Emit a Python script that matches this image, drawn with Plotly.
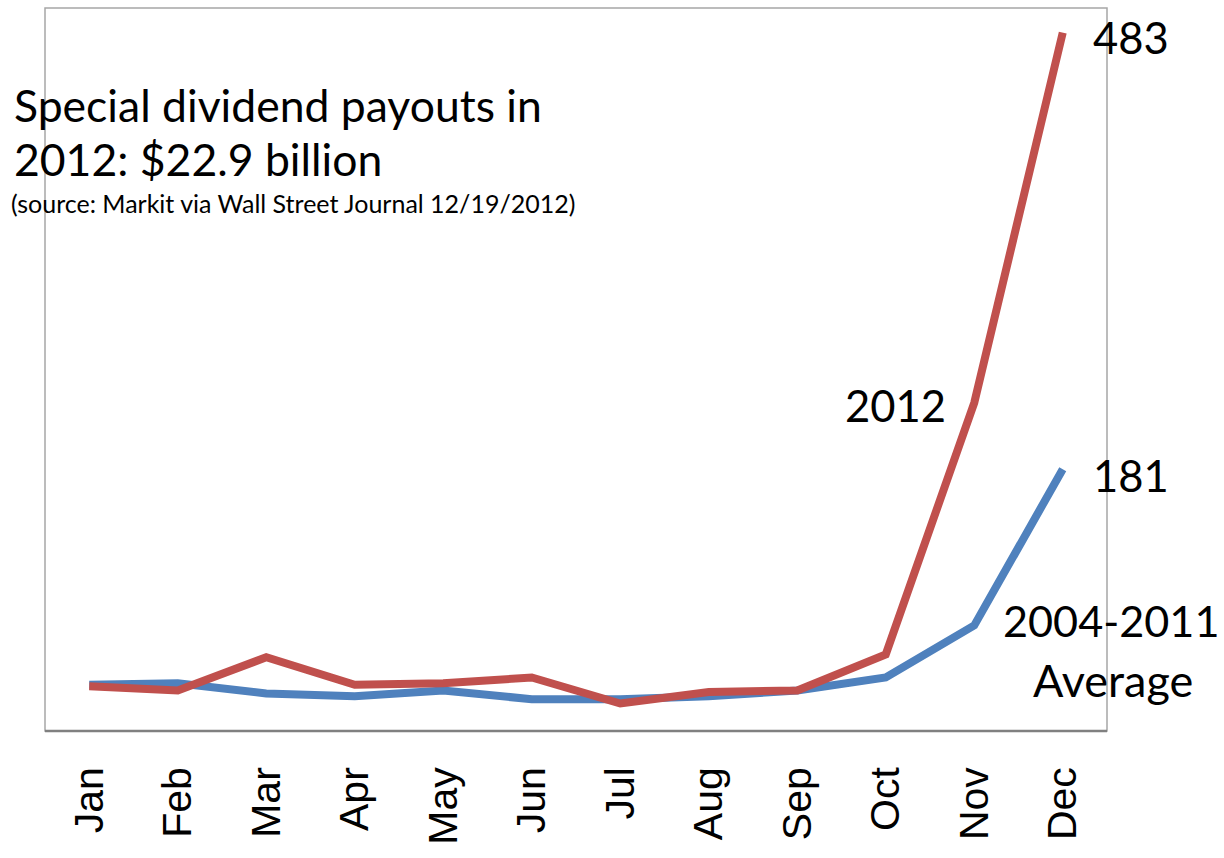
import plotly.graph_objects as go

months = ["Jan", "Feb", "Mar", "Apr", "May", "Jun", "Jul", "Aug", "Sep", "Oct", "Nov", "Dec"]
avg_2004_2011 = [32, 33, 26, 24, 28, 22, 22, 24, 28, 37, 73, 181]
payouts_2012 = [31, 28, 51, 32, 33, 37, 19, 27, 28, 53, 227, 483]

RED = "#C0504D"
BLUE = "#4F81BD"
FONT = "Lato, 'Open Sans', sans-serif"

fig = go.Figure()
fig.add_trace(go.Scatter(x=months, y=avg_2004_2011, mode="lines",
                         line=dict(color=BLUE, width=8), name="2004-2011 Average"))
fig.add_trace(go.Scatter(x=months, y=payouts_2012, mode="lines",
                         line=dict(color=RED, width=8), name="2012"))

fig.update_layout(
    width=1224, height=858,
    margin=dict(l=45, r=117, t=8, b=127),
    paper_bgcolor="white", plot_bgcolor="white",
    showlegend=False,
    xaxis=dict(type="category", range=[-0.5, 11.5], showgrid=False, zeroline=False,
               showline=False, ticks="", tickangle=-90, ticklabelstandoff=27,
               tickfont=dict(family="'Liberation Sans', Arial, sans-serif", size=41, color="black")),
    yaxis=dict(range=[0, 500], showgrid=False, zeroline=False, showticklabels=False,
               ticks="", showline=False),
    shapes=[
        dict(type="rect", xref="paper", yref="paper", x0=0, x1=1, y0=0, y1=1,
             line=dict(color="#A6A6A6", width=1.5), layer="below"),
        dict(type="line", xref="paper", yref="paper", x0=0, x1=1, y0=0, y1=0,
             line=dict(color="#808080", width=2.5), layer="below"),
    ],
)

ann = [
    dict(text="Special dividend payouts in", x=12, y=105, size=44.5),
    dict(text="2012: $22.9 billion", x=12, y=158, size=44.5),
    dict(text="(source: Markit via Wall Street Journal 12/19/2012)", x=9, y=203, size=25),
    dict(text="483", x=1091, y=37, size=43.5),
    dict(text="181", x=1091, y=475, size=43.5),
    dict(text="2012", x=843, y=405, size=43.5),
    dict(text="2004-2011", x=1001, y=620, size=43.2),
    dict(text="Average", x=1031, y=680, size=45),
]
for a in ann:
    fig.add_annotation(text=a["text"], xref="paper", yref="paper",
                       x=(a["x"] - 45) / 1062, y=1 - (a["y"] - 8) / 723,
                       xanchor="left", yanchor="middle", showarrow=False,
                       font=dict(family=FONT, size=a["size"], color="black"))

fig.write_html("out.html")
